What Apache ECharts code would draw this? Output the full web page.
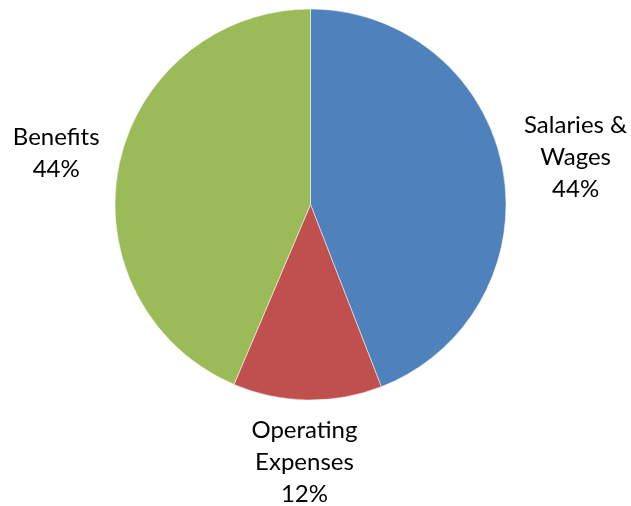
<!DOCTYPE html>
<html>
<head>
<meta charset="utf-8">
<script src="https://cdn.jsdelivr.net/npm/echarts@6/dist/echarts.min.js"></script>
<style>html,body{margin:0;padding:0;background:#fff}#c{width:631px;height:506px}</style>
</head>
<body>
<div id="c"></div>
<script>
const categories = ['Salaries &\nWages', 'Operating\nExpenses', 'Benefits'];
const values = [44.1, 12.3, 43.6];
const colors = ['#4F81BD', '#C0504D', '#9BBB59'];

const chart = echarts.init(document.getElementById('c'), null, {renderer: 'canvas'});
chart.setOption({
  animation: false,
  backgroundColor: '#ffffff',
  series: [{
    type: 'pie',
    center: [310.5, 204.5],
    radius: 195.5,
    startAngle: 90,
    clockwise: true,
    avoidLabelOverlap: false,
    data: categories.map((c, i) => {
      const item = {name: c, value: values[i], itemStyle: {color: colors[i]}};
      if (i === 0) item.labelLine = {show: false, length: 62, length2: 12};
      return item;
    }),
    itemStyle: {borderColor: '#ffffff', borderWidth: 0.5},
    label: {
      show: true,
      position: 'outside',
      distanceToLabelLine: 0,
      formatter: p => p.name + '\n' + Math.round(p.percent) + '%',
      fontFamily: 'Lato',
      fontSize: 24,
      lineHeight: 32,
      color: '#000000'
    },
    labelLine: {show: false, length: 62, length2: 2},
    labelLayout: {align: 'center', verticalAlign: 'middle'},
    emphasis: {disabled: true}
  }]
});
</script>
</body>
</html>
